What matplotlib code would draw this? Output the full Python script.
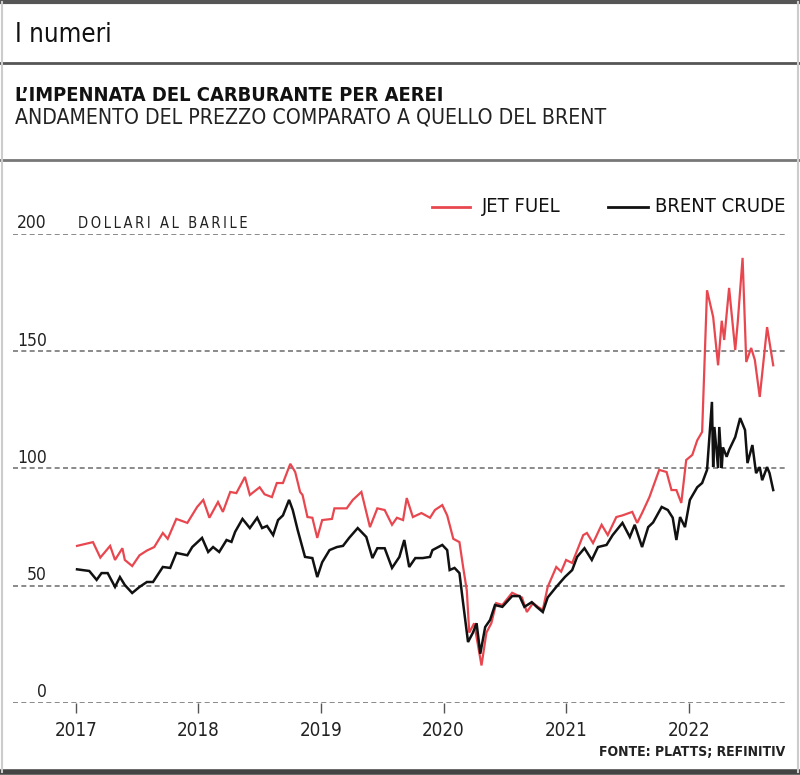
import matplotlib
matplotlib.use('Agg')
import matplotlib.pyplot as plt
from matplotlib.lines import Line2D

plt.rcParams['font.family'] = ['DejaVu Sans']
plt.rcParams['font.stretch'] = 'condensed'

# prezzi in dollari al barile, anni in forma decimale
jet_year = [2017.01, 2017.14, 2017.20, 2017.28, 2017.32, 2017.38, 2017.40, 2017.46, 2017.52, 2017.58,
            2017.64, 2017.71, 2017.75, 2017.82, 2017.91, 2017.99, 2018.04, 2018.09, 2018.16, 2018.20,
            2018.26, 2018.31, 2018.38, 2018.42, 2018.50, 2018.54, 2018.60, 2018.64, 2018.69, 2018.75,
            2018.79, 2018.83, 2018.85, 2018.89, 2018.93, 2018.97, 2019.01, 2019.09, 2019.11, 2019.21,
            2019.26, 2019.33, 2019.40, 2019.46, 2019.52, 2019.58, 2019.62, 2019.67, 2019.70, 2019.75,
            2019.82, 2019.89, 2019.93, 2019.99, 2020.03, 2020.08, 2020.13, 2020.16, 2020.19, 2020.21,
            2020.25, 2020.31, 2020.35, 2020.39, 2020.43, 2020.48, 2020.56, 2020.64, 2020.68, 2020.73,
            2020.77, 2020.81, 2020.85, 2020.92, 2020.96, 2021.00, 2021.05, 2021.09, 2021.14, 2021.17,
            2021.22, 2021.29, 2021.34, 2021.41, 2021.46, 2021.54, 2021.58, 2021.62, 2021.68, 2021.76,
            2021.82, 2021.86, 2021.90, 2021.94, 2021.98, 2022.03, 2022.07, 2022.11, 2022.15, 2022.20,
            2022.24, 2022.27, 2022.29, 2022.33, 2022.38, 2022.40, 2022.44, 2022.47, 2022.51, 2022.54,
            2022.58, 2022.64, 2022.69]
jet_price = [67, 68.6, 62, 67, 61, 66, 61, 58.4, 63, 65,
             66.5, 72.5, 70, 78.5, 76.8, 83.6, 86.6, 79, 85.7, 81.5,
             90, 89.5, 96.4, 88.7, 92, 89, 87.8, 93.8, 93.8, 102,
             98.5, 90, 88.7, 79.3, 79, 70.4, 78, 78.5, 83, 83,
             86.6, 90, 75, 83, 82.3, 76, 79, 78, 87.4, 79.3,
             81, 79, 82.3, 84.4, 80, 70, 68.6, 58, 48, 30,
             34, 16, 30, 34, 42.6, 41.8, 47, 45, 38.8, 42.6,
             41, 39.7, 49.5, 58, 56, 61, 59.7, 65, 71.6, 72.5,
             68.2, 76, 71.6, 79.3, 80, 81.5, 76.8, 81, 87.8, 99.4,
             98.5, 90.8, 90.8, 85.3, 103.6, 105.8, 112, 115.6, 176, 164.6,
             144, 163, 154.8, 177, 150.5, 162, 189.8, 145.4, 151.4, 146.3,
             130.5, 160.3, 144]

brent_year = [2017.01, 2017.11, 2017.17, 2017.21, 2017.26, 2017.32, 2017.36, 2017.40, 2017.46, 2017.52,
              2017.58, 2017.63, 2017.71, 2017.77, 2017.82, 2017.91, 2017.95, 2018.03, 2018.08, 2018.12,
              2018.17, 2018.23, 2018.27, 2018.30, 2018.36, 2018.42, 2018.48, 2018.52, 2018.56, 2018.61,
              2018.65, 2018.69, 2018.74, 2018.77, 2018.81, 2018.87, 2018.93, 2018.97, 2019.01, 2019.07,
              2019.13, 2019.18, 2019.23, 2019.30, 2019.37, 2019.42, 2019.46, 2019.52, 2019.58, 2019.64,
              2019.68, 2019.72, 2019.77, 2019.83, 2019.89, 2019.91, 2019.99, 2020.03, 2020.05, 2020.09,
              2020.13, 2020.16, 2020.20, 2020.24, 2020.27, 2020.30, 2020.34, 2020.38, 2020.42, 2020.48,
              2020.56, 2020.62, 2020.66, 2020.72, 2020.76, 2020.81, 2020.85, 2020.92, 2020.99, 2021.05,
              2021.09, 2021.15, 2021.21, 2021.26, 2021.33, 2021.38, 2021.46, 2021.52, 2021.56, 2021.62,
              2021.67, 2021.71, 2021.78, 2021.83, 2021.87, 2021.90, 2021.93, 2021.97, 2022.01, 2022.07,
              2022.11, 2022.15, 2022.19, 2022.20, 2022.21, 2022.24, 2022.25, 2022.27, 2022.28, 2022.31,
              2022.33, 2022.38, 2022.42, 2022.46, 2022.48, 2022.52, 2022.55, 2022.58, 2022.60, 2022.64,
              2022.66, 2022.69]
brent_price = [57, 56.3, 52.5, 55.4, 55.4, 49.5, 53.7, 50.3, 46.9, 49.5,
               51.6, 51.6, 58, 57.6, 64, 63, 66.5, 70.4, 64.4, 66.5,
               64.4, 69.5, 68.7, 73, 78.5, 74.6, 79, 74.6, 75.5, 71.6,
               78, 80, 86.6, 82.3, 73.8, 62.3, 61.8, 53.7, 60, 65.2,
               66.5, 67, 70.4, 74.6, 70.8, 61.8, 66, 66, 57.6, 62.3,
               69.5, 58, 61.8, 61.8, 62.3, 65.2, 67.4, 65.2, 56.7, 57.6,
               55.4, 42.6, 26, 30, 34, 21, 32.4, 35.4, 41.8, 41,
               45.6, 45.6, 41, 43, 41, 38.8, 45, 49.5, 53.7, 56.7,
               62.3, 66, 61, 66.5, 67.4, 71.6, 76.8, 70.8, 76, 66.5,
               75, 77, 83.6, 82.3, 79, 69.5, 79.3, 75, 86.6, 92,
               93.8, 99.4, 128.4, 100.6, 117.7, 100.2, 117.7, 100.2, 109, 105,
               107.9, 113.4, 121.5, 116.4, 102.3, 110, 98, 100.6, 95, 100.6,
               98, 90.8]

y_ticks = [0, 50, 100, 150, 200]
x_ticks = [2017, 2018, 2019, 2020, 2021, 2022]

JET_COLOR = '#e8474f'
GRID_COLOR = '#777777'

fig = plt.figure(figsize=(8, 7.75), dpi=100)

# cornice e separatori
for yy, lw, col in [(0.997, 3, '#555555'), (0.919, 2, '#555555'),
                    (0.794, 2, '#777777'), (0.004, 4, '#444444')]:
    fig.add_artist(Line2D([0, 1], [yy, yy], color=col, lw=lw, transform=fig.transFigure))
fig.add_artist(Line2D([0.002, 0.002], [0.004, 0.997], color='#cccccc', lw=1.5, transform=fig.transFigure))
fig.add_artist(Line2D([0.998, 0.998], [0.004, 0.997], color='#cccccc', lw=1.5, transform=fig.transFigure))

fig.text(0.019, 0.955, 'I numeri', fontsize=18.5, color='#111111', va='center')
fig.text(0.019, 0.877, 'L\u2019IMPENNATA DEL CARBURANTE PER AEREI', fontsize=14.4,
         fontweight='bold', color='#111111', va='center')
fig.text(0.019, 0.849, 'ANDAMENTO DEL PREZZO COMPARATO A QUELLO DEL BRENT', fontsize=15.2,
         color='#222222', va='center')

ax = fig.add_axes([0.016, 0.0929, 0.966, 0.6052])
ax.set_xlim(2016.486, 2022.791)
ax.set_ylim(0, 200)

for v in y_ticks:
    ax.axhline(v, color=GRID_COLOR, lw=1.2, ls=(0, (3, 2)), zorder=1)
    ax.text(0.044, v + 4.5, str(v), transform=ax.get_yaxis_transform(),
            ha='right', va='center', fontsize=12.5, color='#222222')

ax.plot(jet_year, jet_price, color=JET_COLOR, lw=1.6, zorder=3, solid_joinstyle='miter')
ax.plot(brent_year, brent_price, color='#111111', lw=1.8, zorder=4, solid_joinstyle='miter')

for s in ax.spines.values():
    s.set_visible(False)
ax.set_yticks([])
ax.set_xticks(x_ticks)
ax.set_xticklabels([str(x) for x in x_ticks], fontsize=13.5, color='#222222')
ax.tick_params(axis='x', length=7, width=1, color='#555555', pad=6)

ax.text(0.084, 204.5, '\u2009'.join('DOLLARI AL BARILE'),
        transform=ax.get_yaxis_transform(), fontsize=10.5, color='#222222', va='center')

# legenda
fig.text(0.982, 0.733, 'BRENT CRUDE', fontsize=14.5, ha='right', va='center', color='#111111')
fig.add_artist(Line2D([0.760, 0.810], [0.733, 0.733], color='#111111', lw=2, transform=fig.transFigure))
fig.text(0.603, 0.733, 'JET FUEL', fontsize=14.5, ha='left', va='center', color='#111111')
fig.add_artist(Line2D([0.540, 0.588], [0.733, 0.733], color=JET_COLOR, lw=2, transform=fig.transFigure))

fig.text(0.982, 0.030, 'FONTE: PLATTS; REFINITIV', fontsize=10, fontweight='bold',
         ha='right', va='center', color='#222222')

fig.savefig('out.png', dpi=100)
